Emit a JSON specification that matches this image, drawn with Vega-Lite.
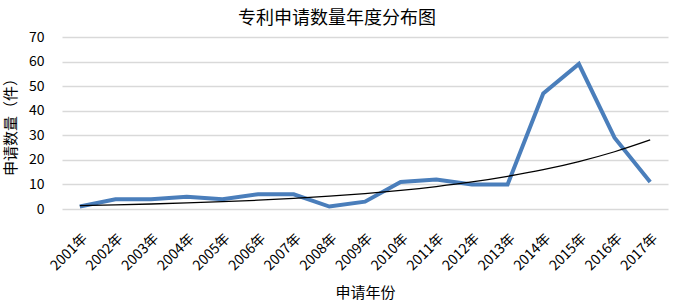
{
  "$schema": "https://vega.github.io/schema/vega-lite/v6.json",
  "width": 606,
  "height": 172,
  "autosize": "none",
  "padding": {"left": 62, "top": 37, "right": 10, "bottom": 98},
  "background": "white",
  "title": {
    "text": "专利申请数量年度分布图",
    "font": "Noto Sans CJK SC",
    "fontSize": 18,
    "fontWeight": "normal",
    "color": "#000000",
    "anchor": "middle",
    "dx": -28,
    "offset": 2
  },
  "config": {
    "view": {"stroke": null},
    "font": "Noto Sans CJK SC",
    "axisY": {
      "title": "申请数量（件）",
      "titleFontSize": 15,
      "titleFontWeight": "normal",
      "titleColor": "#000000",
      "titlePadding": 10,
      "values": [0, 10, 20, 30, 40, 50, 60, 70],
      "labelFontSize": 14,
      "labelColor": "#000000",
      "labelPadding": 18,
      "domain": false,
      "ticks": false,
      "grid": true,
      "gridColor": "#D9D9D9",
      "gridWidth": 1.5
    }
  },
  "data": {
    "values": [
      {"year": "2001年", "count": 1, "trend": 1.4},
      {"year": "2002年", "count": 4, "trend": 1.69},
      {"year": "2003年", "count": 4, "trend": 2.04},
      {"year": "2004年", "count": 5, "trend": 2.46},
      {"year": "2005年", "count": 4, "trend": 2.97},
      {"year": "2006年", "count": 6, "trend": 3.58},
      {"year": "2007年", "count": 6, "trend": 4.32},
      {"year": "2008年", "count": 1, "trend": 5.21},
      {"year": "2009年", "count": 3, "trend": 6.28},
      {"year": "2010年", "count": 11, "trend": 7.58},
      {"year": "2011年", "count": 12, "trend": 9.14},
      {"year": "2012年", "count": 10, "trend": 11.0},
      {"year": "2013年", "count": 10, "trend": 13.3},
      {"year": "2014年", "count": 47, "trend": 16.0},
      {"year": "2015年", "count": 59, "trend": 19.3},
      {"year": "2016年", "count": 29, "trend": 23.3},
      {"year": "2017年", "count": 11, "trend": 28.1}
    ]
  },
  "encoding": {
    "x": {
      "field": "year",
      "type": "ordinal",
      "scale": {"type": "point", "padding": 0.5},
      "axis": {
        "title": "申请年份",
        "titleFontSize": 15,
        "titleFontWeight": "normal",
        "titleColor": "#000000",
        "titlePadding": 13,
        "labelAngle": -45,
        "labelFontSize": 14,
        "labelColor": "#000000",
        "labelPadding": 22,
        "domain": false,
        "ticks": false,
        "grid": false
      }
    }
  },
  "layer": [
    {
      "mark": {"type": "line", "color": "#4A7EBB", "strokeWidth": 4, "strokeJoin": "miter"},
      "encoding": {
        "y": {
          "field": "count",
          "type": "quantitative",
          "title": "申请数量（件）",
          "scale": {"domain": [0, 70]}
        }
      }
    },
    {
      "mark": {"type": "line", "color": "#000000", "strokeWidth": 1.3, "interpolate": "monotone"},
      "encoding": {
        "y": {"field": "trend", "type": "quantitative", "title": "申请数量（件）"}
      }
    }
  ]
}
